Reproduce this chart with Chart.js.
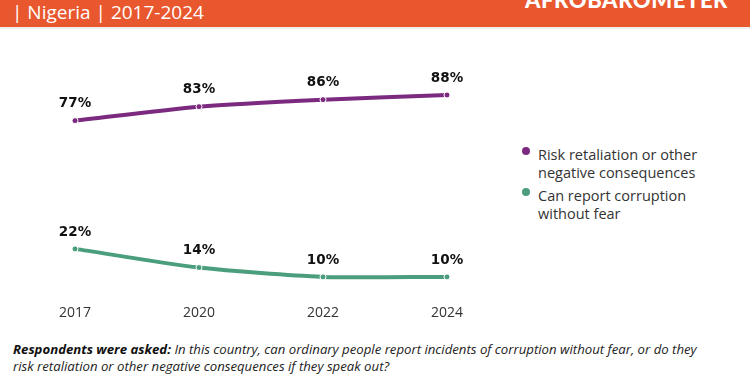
<!DOCTYPE html>
<html>
<head>
<meta charset="utf-8">
<script src="https://cdn.jsdelivr.net/npm/chart.js@4.4.0/dist/chart.umd.min.js"></script>
<style>
  body { margin: 0; width: 750px; height: 375px; background: #fff; font-family: "Open Sans", sans-serif; overflow: hidden; position: relative; }
  .header { position: absolute; left: 0; top: 0; width: 750px; height: 27px; background: #e8572e; border-bottom: 2px solid #eeeeee; }
  .subtitle { position: absolute; left: 12px; top: 1px; color: #fff; font-size: 19px; font-family: "Open Sans", sans-serif; font-weight: 400; line-height: 22px; }
  .logo { position: absolute; left: 525px; top: -14px; color: #fff; font-size: 22px; font-weight: 900; font-family: "Lato", sans-serif; letter-spacing: 0.6px; }
  #wrap { position: absolute; left: 0; top: 40px; width: 500px; height: 290px; }
  .legend { position: absolute; left: 522px; top: 146px; font-size: 14.5px; color: #333; line-height: 18px; }
  .legend .item { position: relative; padding-left: 16px; margin-bottom: 5px; }
  .legend .dot { position: absolute; left: 0; top: 1px; width: 8px; height: 8px; border-radius: 50%; }
  .note { position: absolute; left: 13px; top: 341px; font-size: 13.2px; color: #222; font-style: italic; line-height: 17px; }
  .note b { font-weight: 700; color: #111; }
</style>
</head>
<body>
<div class="header">
  <div class="subtitle">| Nigeria | 2017-2024</div>
  <div class="logo">AFROBAROMETER</div>
</div>
<div id="wrap"><canvas id="chart"></canvas></div>
<div class="legend">
  <div class="item"><span class="dot" style="background:#7b2a80"></span>Risk retaliation or other<br>negative consequences</div>
  <div class="item"><span class="dot" style="background:#4a9e7e"></span>Can report corruption<br>without fear</div>
</div>
<div class="note"><b>Respondents were asked:</b> In this country, can ordinary people report incidents of corruption without fear, or do they<br>risk retaliation or other negative consequences if they speak out?</div>
<script>
const years = ["2017", "2020", "2022", "2024"];
const riskRetaliation = [77, 83, 86, 88];
const reportWithoutFear = [22, 14, 10, 10];

const pointLabels = {
  id: "pointLabels",
  afterDatasetsDraw(chart) {
    const ctx = chart.ctx;
    ctx.save();
    ctx.font = "bold 13.5px 'DejaVu Sans', sans-serif";
    ctx.fillStyle = "#111";
    ctx.textAlign = "center";
    ctx.textBaseline = "bottom";
    chart.data.datasets.forEach((ds, i) => {
      chart.getDatasetMeta(i).data.forEach((pt, j) => {
        ctx.fillText(ds.data[j] + "%", pt.x, pt.y - 10);
      });
    });
    ctx.restore();
  }
};

new Chart(document.getElementById("chart"), {
  type: "line",
  data: {
    labels: years,
    datasets: [
      {
        label: "Risk retaliation or other negative consequences",
        data: riskRetaliation,
        borderColor: "#7b2a80",
        backgroundColor: "#7b2a80",
        borderWidth: 4,
        tension: 0.25,
        pointRadius: 3,
        pointBorderColor: "#fff",
        pointBorderWidth: 1,
        clip: false
      },
      {
        label: "Can report corruption without fear",
        data: reportWithoutFear,
        borderColor: "#4a9e7e",
        backgroundColor: "#4a9e7e",
        borderWidth: 4,
        tension: 0.25,
        pointRadius: 3,
        pointBorderColor: "#fff",
        pointBorderWidth: 1,
        clip: false
      }
    ]
  },
  options: {
    responsive: true,
    maintainAspectRatio: false,
    animation: false,
    layout: { padding: { left: 75, right: 53, top: 27, bottom: 13 } },
    plugins: {
      legend: { display: false },
      tooltip: { enabled: false }
    },
    scales: {
      x: {
        offset: false,
        grid: { display: false },
        border: { display: false },
        ticks: { color: "#333", font: { size: 14, family: "'Open Sans', sans-serif" }, padding: -4 }
      },
      y: {
        display: false,
        min: 0,
        max: 100
      }
    }
  },
  plugins: [pointLabels]
});
</script>
</body>
</html>
